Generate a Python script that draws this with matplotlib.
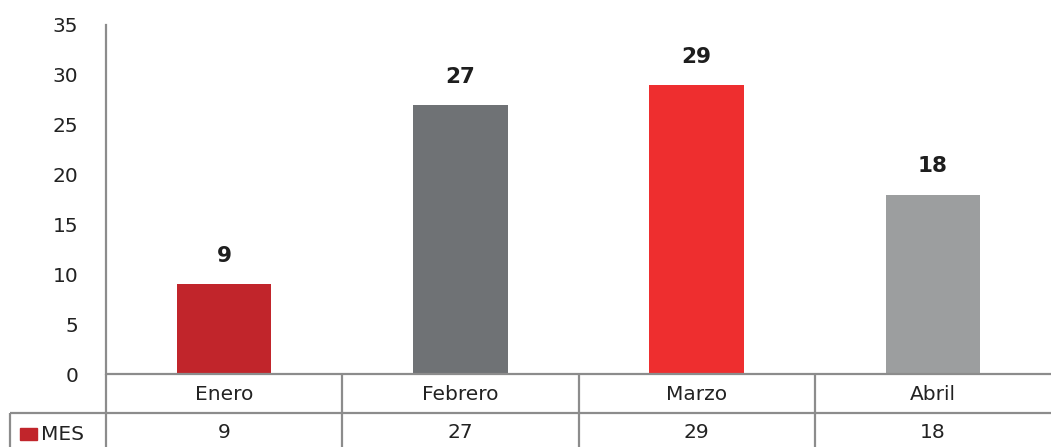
import matplotlib
matplotlib.use("Agg")
import matplotlib.pyplot as plt
from matplotlib.patches import Rectangle

categories = ["Enero", "Febrero", "Marzo", "Abril"]
values = [9, 27, 29, 18]
series_name = "MES"
colors = ["#C1252B", "#6F7275", "#EE2E2F", "#9C9E9F"]
yticks = [0, 5, 10, 15, 20, 25, 30, 35]

plt.rcParams['font.family'] = ['DejaVu Sans']
W, H = 1052, 447
fig = plt.figure(figsize=(W / 100, H / 100), dpi=100)
ax_left, ax_right = 106 / W, 1051 / W
ax_bottom, ax_top = (H - 374) / H, (H - 25) / H
ax = fig.add_axes([ax_left, ax_bottom, ax_right - ax_left, ax_top - ax_bottom])

x = list(range(len(categories)))
ax.bar(x, values, width=0.4, color=colors, zorder=3)
ax.set_xlim(-0.5, len(categories) - 0.5)
ax.set_ylim(0, 35)
ax.set_yticks(yticks)
ax.set_yticklabels([str(t) for t in yticks], fontsize=14.5, color="#222222")
ax.tick_params(axis='y', length=0, pad=20)
ax.set_xticks([])
for s in ["top", "right", "bottom"]:
    ax.spines[s].set_visible(False)
ax.spines["left"].set_color("#8C8C8C")
ax.spines["left"].set_linewidth(1.6)

for xi, v in zip(x, values):
    ax.annotate(str(v), (xi, v), xytext=(0, 13), textcoords="offset points",
                ha="center", va="bottom", fontsize=15.5, fontweight="bold", color="#1E1E1E")

# data table below
px = 35 / (374 - 25)  # data units per pixel in y
def py(ypix):
    return 35 - (ypix - 25) * px

line_kw = dict(color="#8C8C8C", lw=1.6, clip_on=False, zorder=4, solid_capstyle="butt")
x_left_tbl = -0.5 - (106 - 10) / ((1051 - 106) / 4)
xr = len(categories) - 0.5
ax.plot([-0.5, xr], [0, 0], **line_kw)
ax.plot([x_left_tbl, xr], [py(413), py(413)], **line_kw)
ax.plot([-0.5, -0.5], [0, py(447)], **line_kw)
ax.plot([x_left_tbl, x_left_tbl], [py(413), py(447)], **line_kw)
for b in range(1, len(categories)):
    ax.plot([b - 0.5, b - 0.5], [0, py(447)], **line_kw)

for xi, c, v in zip(x, categories, values):
    ax.text(xi, py(394), c, ha="center", va="center", fontsize=14.5, color="#222222", clip_on=False)
    ax.text(xi, py(433), str(v), ha="center", va="center", fontsize=14.5, color="#222222", clip_on=False)

# legend key in table
fig.patches.append(Rectangle((20 / W, (H - 440) / H), 17 / W, 12 / H,
                             transform=fig.transFigure, color=colors[0], figure=fig))
fig.text(41 / W, (H - 434) / H, series_name, ha="left", va="center", fontsize=14.5, color="#222222")

fig.savefig("out.png", dpi=100)
